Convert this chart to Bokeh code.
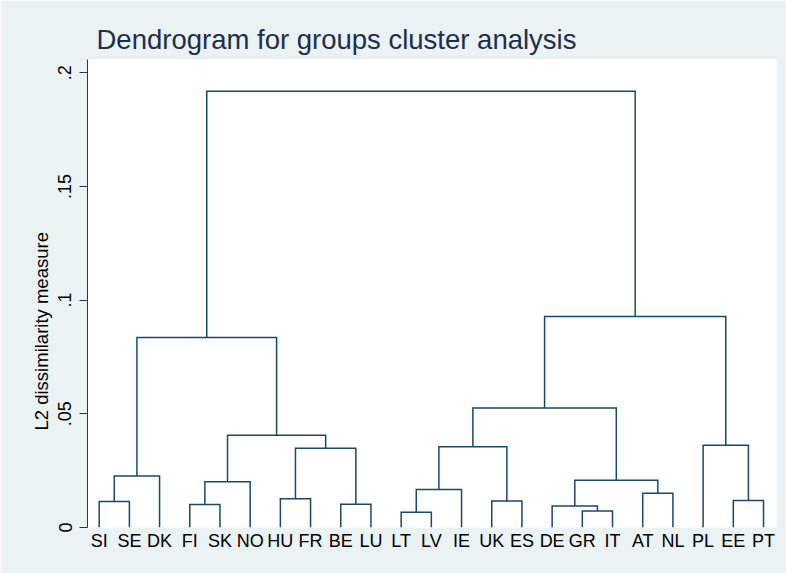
from bokeh.plotting import figure
from bokeh.models import Range1d, FixedTicker, Title
from bokeh.embed import file_html
from bokeh.resources import INLINE

# ---- data -------------------------------------------------------------
leaves = ["SI", "SE", "DK", "FI", "SK", "NO", "HU", "FR", "BE", "LU", "LT", "LV",
          "IE", "UK", "ES", "DE", "GR", "IT", "AT", "NL", "PL", "EE", "PT"]
# merges: clusters numbered after leaves (23, 24, ...)
merge_left = [0, 23, 3, 25, 6, 8, 27, 26, 24, 10, 32, 13, 33, 16, 15, 18, 37, 35, 21, 20, 40, 31]
merge_right = [1, 2, 4, 5, 7, 9, 28, 29, 30, 11, 12, 14, 34, 17, 36, 19, 38, 39, 22, 41, 42, 43]
merge_height = [0.0114, 0.0227, 0.0101, 0.0201, 0.0126, 0.0102, 0.0349, 0.0406, 0.0836,
                0.0067, 0.0167, 0.0116, 0.0355, 0.0073, 0.0095, 0.0151, 0.0208, 0.0525,
                0.0119, 0.0362, 0.0928, 0.1918]
y_ticks = [0, 0.05, 0.1, 0.15, 0.2]
y_tick_labels = ["0", ".05", ".1", ".15", ".2"]

# ---- build dendrogram paths -----------------------------------------
n = len(leaves)
pos = {i: i + 1 for i in range(n)}
hgt = {i: 0.0 for i in range(n)}
xs, ys = [], []
for k, (a, b, h) in enumerate(zip(merge_left, merge_right, merge_height)):
    xa, xb = pos[a], pos[b]
    xs.append([xa, xa, xb, xb])
    ys.append([hgt[a], h, h, hgt[b]])
    pos[n + k] = (xa + xb) / 2
    hgt[n + k] = h

BG = "#EAF2F3"
LINE = "#1a476f"
FONT = "Liberation Sans"

p = figure(width=786, height=573, output_backend="svg", toolbar_location=None,
           x_range=Range1d(0.613, 23.43), y_range=Range1d(0, 0.2058),
           min_border_left=87, min_border_right=10, min_border_top=59, min_border_bottom=46)
p.background_fill_color = "white"
p.border_fill_color = BG
p.outline_line_color = None
p.grid.visible = False

p.title.text = "Dendrogram for groups cluster analysis"
p.title.text_font = FONT
p.title.text_font_size = "27.5px"
p.title.text_font_style = "normal"
p.title.text_color = "#1e2e4e"
p.title.align = "left"
p.title.offset = 9
p.title.standoff = 9

p.multi_line(xs=xs, ys=ys, line_color=LINE, line_width=1.5, line_join="miter")

# x axis: labels only
xa = p.xaxis[0]
xa.ticker = FixedTicker(ticks=list(range(1, n + 1)))
xa.major_label_overrides = {i + 1: lab for i, lab in enumerate(leaves)}
xa.axis_line_color = None
xa.major_tick_line_color = None
xa.minor_tick_line_color = None
xa.major_label_text_font = FONT
xa.major_label_text_font_size = "18px"
xa.major_label_text_color = "black"
xa.major_label_standoff = -3

ya = p.yaxis[0]
ya.ticker = FixedTicker(ticks=y_ticks)
ya.major_label_overrides = {t: s for t, s in zip(y_ticks, y_tick_labels)}
ya.major_label_orientation = "vertical"
ya.axis_line_color = "#333333"
ya.major_tick_line_color = "#333333"
ya.major_tick_out = 8
ya.major_tick_in = 0
ya.minor_tick_line_color = None
ya.major_label_text_font = FONT
ya.major_label_text_font_size = "18px"
ya.major_label_text_color = "black"
ya.major_label_standoff = 8

ylab = Title(text="L2 dissimilarity measure", align="left", offset=97,
             text_font=FONT, text_font_size="18.5px", text_font_style="normal",
             text_color="black", standoff=7)
p.add_layout(ylab, "left")

open("out.html", "w").write(file_html(p, INLINE))
